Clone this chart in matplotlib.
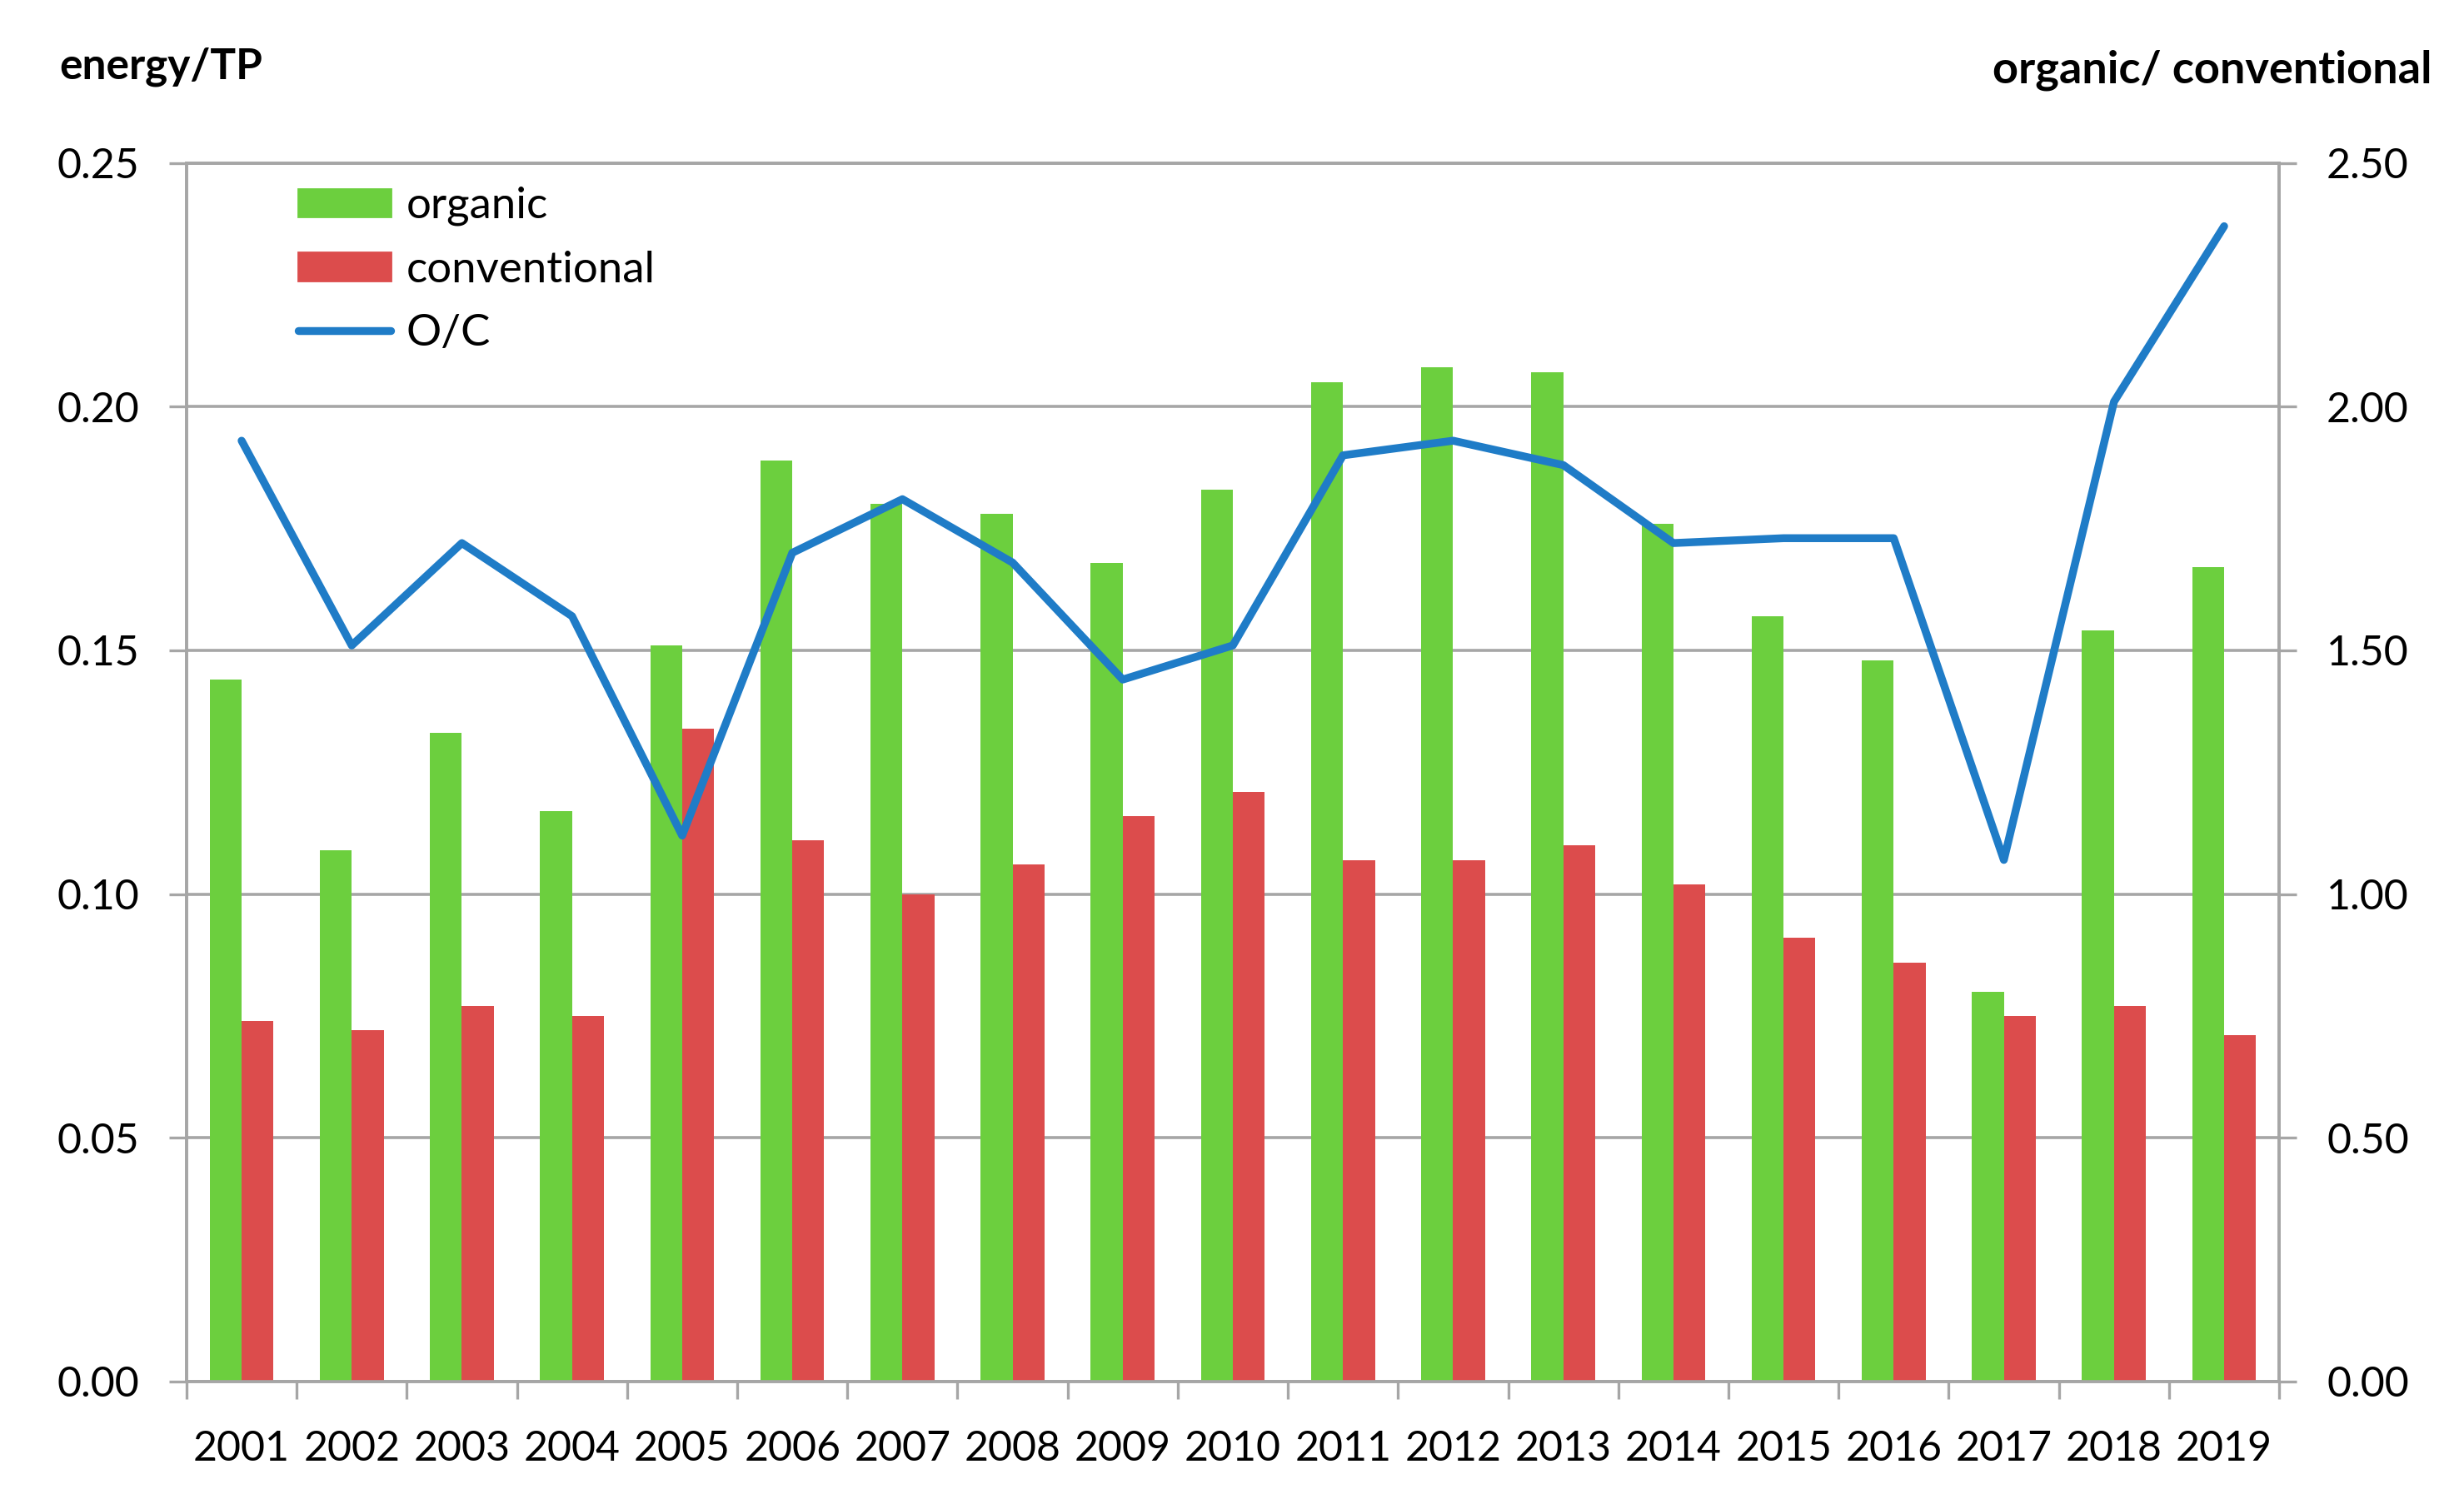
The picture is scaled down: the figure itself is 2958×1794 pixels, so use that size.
import numpy as np
import matplotlib
matplotlib.use("Agg")
import matplotlib.pyplot as plt
from matplotlib.patches import Patch
from matplotlib.lines import Line2D

years = [str(y) for y in range(2001, 2020)]
organic = [0.144, 0.109, 0.133, 0.117, 0.151, 0.189, 0.180, 0.178, 0.168, 0.183,
           0.205, 0.208, 0.207, 0.176, 0.157, 0.148, 0.080, 0.154, 0.167]
conventional = [0.074, 0.072, 0.077, 0.075, 0.134, 0.111, 0.100, 0.106, 0.116, 0.121,
                0.107, 0.107, 0.110, 0.102, 0.091, 0.086, 0.075, 0.077, 0.071]
ratio = [1.93, 1.51, 1.72, 1.57, 1.12, 1.70, 1.81, 1.68, 1.44, 1.51,
         1.90, 1.93, 1.88, 1.72, 1.73, 1.73, 1.07, 2.01, 2.37]

green = "#6CCF3E"
red = "#DC4C4C"
blue = "#1F7CC7"
grey = "#A6A6A6"

plt.rcParams['font.family'] = ['Lato', 'DejaVu Sans']

fig = plt.figure(figsize=(14.79, 8.97), dpi=200)
ax = fig.add_axes([0.0757, 0.0753, 0.8493, 0.8157])

x = np.arange(len(years))
w = 0.29
ax.bar(x - w / 2, organic, w, color=green, zorder=3)
ax.bar(x + w / 2, conventional, w, color=red, zorder=3)

ax.set_xlim(-0.5, len(years) - 0.5)
ax.set_ylim(0, 0.25)
ax.set_yticks(np.arange(0, 0.26, 0.05))
ax.set_yticklabels(["%.2f" % v for v in np.arange(0, 0.26, 0.05)])
ax.yaxis.grid(True, color=grey, linewidth=1.3, zorder=0)

# ticks at category edges, labels centred
ax.set_xticks(np.arange(-0.5, len(years), 1.0))
ax.set_xticklabels([])
ax.set_xticks(x, minor=True)
ax.set_xticklabels(years, minor=True)
ax.tick_params(axis='x', which='major', length=7.5, width=1.2, color=grey)
ax.tick_params(axis='x', which='minor', length=0, pad=21, labelsize=18)
ax.tick_params(axis='y', length=7.5, width=1.2, color=grey, pad=13, labelsize=18)

for s in ax.spines.values():
    s.set_color(grey)
    s.set_linewidth(1.3)

ax2 = ax.twinx()
ax2.plot(x, ratio, color=blue, linewidth=3.4, solid_capstyle='round', zorder=4)
ax2.set_ylim(0, 2.5)
ax2.set_yticks(np.arange(0, 2.51, 0.5))
ax2.set_yticklabels(["%.2f" % v for v in np.arange(0, 2.51, 0.5)])
ax2.tick_params(axis='y', length=7.5, width=1.2, color=grey, pad=13, labelsize=18)
for s in ax2.spines.values():
    s.set_color(grey)
    s.set_linewidth(1.3)

handles = [Patch(color=green), Patch(color=red),
           Line2D([], [], color=blue, linewidth=3.4, solid_capstyle='round')]
ax2.legend(handles, ["organic", "conventional", "O/C"], loc='upper left',
           bbox_to_anchor=(0.045, 0.995), frameon=False, fontsize=19,
           handlelength=2.1, handleheight=0.6, handletextpad=0.35,
           labelspacing=0.55, borderaxespad=0)

fig.text(0.024, 0.955, "energy/TP", fontsize=18.5, fontweight='bold', va='center', ha='left')
fig.text(0.987, 0.953, "organic/ conventional", fontsize=19.5, fontweight='bold',
         va='center', ha='right')

fig.savefig("out.png", dpi=200)
